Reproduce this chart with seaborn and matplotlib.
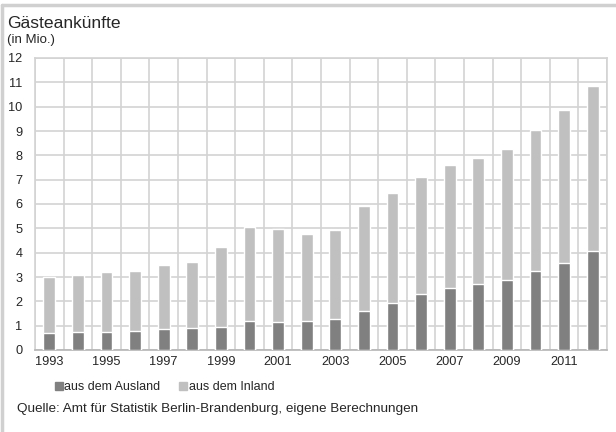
import pandas as pd
import seaborn as sns
import matplotlib.pyplot as plt
from matplotlib.patches import Patch

jahre = list(range(1993, 2013))
gesamt = [2.99, 3.10, 3.21, 3.25, 3.48, 3.62, 4.22, 5.06, 4.96, 4.77,
          4.95, 5.92, 6.44, 7.10, 7.60, 7.88, 8.26, 9.03, 9.88, 10.85]
ausland = [0.68, 0.75, 0.75, 0.79, 0.88, 0.92, 0.96, 1.21, 1.15, 1.21,
           1.29, 1.62, 1.93, 2.30, 2.53, 2.72, 2.88, 3.25, 3.58, 4.07]
inland = [g - a for g, a in zip(gesamt, ausland)]
y_ticks = list(range(0, 13))
x_labels = [str(j) if (j - 1993) % 2 == 0 else "" for j in jahre]

df = pd.DataFrame({"Jahr": [str(j) for j in jahre],
                   "Ausland": ausland, "Inland": inland})
df["Gesamt"] = df["Ausland"] + df["Inland"]

sns.set_style("white")
plt.rcParams["font.family"] = ["Liberation Sans", "DejaVu Sans"]

farbe_aus = "#808080"
farbe_in = "#c0c0c0"
grid = "#d3d3d3"

fig = plt.figure(figsize=(6.16, 4.32), dpi=100)
ax = fig.add_axes([35 / 616, 1 - 350 / 432, 572 / 616, 292 / 432])

# gestapelt: erst Summe (hell), darüber Ausland (dunkel)
sns.barplot(data=df, x="Jahr", y="Gesamt", color=farbe_in, width=0.41,
            saturation=1, ax=ax, zorder=3)
sns.barplot(data=df, x="Jahr", y="Ausland", color=farbe_aus, width=0.41,
            saturation=1, ax=ax, zorder=4)

ax.set_xlim(-0.5, len(jahre) - 0.5)
ax.set_ylim(0, 12)
ax.set_xticks(range(len(jahre)))
ax.set_xticklabels(x_labels, fontsize=9.2)
ax.set_yticks(y_ticks)
ax.set_yticklabels([str(t) for t in y_ticks], fontsize=9.2)
ax.set_xticks([i - 0.5 for i in range(len(jahre) + 1)], minor=True)
ax.tick_params(axis="both", which="both", length=0)
ax.tick_params(axis="x", pad=4)
ax.tick_params(axis="y", pad=9)
ax.set_xlabel("")
ax.set_ylabel("")

ax.grid(axis="y", which="major", color=grid, linewidth=1.2, zorder=0)
ax.grid(axis="x", which="minor", color=grid, linewidth=1.2, zorder=0)
ax.set_axisbelow(True)
for s in ["left", "top", "right"]:
    ax.spines[s].set_color(grid)
    ax.spines[s].set_linewidth(1.2)
ax.spines["bottom"].set_color("#b5b5b5")
ax.spines["bottom"].set_linewidth(1.2)

fig.text(7 / 616, 1 - 28 / 432, "Gästeankünfte", fontsize=12.6, va="baseline")
fig.text(7 / 616, 1 - 43 / 432, "(in Mio.)", fontsize=9.5, va="baseline")

handles = [Patch(color=farbe_aus, label="aus dem Ausland"),
           Patch(color=farbe_in, label="aus dem Inland")]
fig.legend(handles=handles, loc="center left",
           bbox_to_anchor=(55 / 616, 1 - 387 / 432), ncol=2, frameon=False,
           fontsize=9, handlelength=0.6, handleheight=0.6,
           handletextpad=0.15, columnspacing=1.5, borderpad=0, borderaxespad=0)

fig.text(17 / 616, 1 - 412 / 432,
         "Quelle: Amt für Statistik Berlin-Brandenburg, eigene Berechnungen",
         fontsize=9.7, va="baseline")

# grauer Rahmen links und oben
fig.add_artist(plt.Line2D([2.5 / 616, 2.5 / 616], [0, 1 - 5 / 432],
                          color="#d0d0d0", linewidth=2.5))
fig.add_artist(plt.Line2D([2.5 / 616, 1], [1 - 5 / 432, 1 - 5 / 432],
                          color="#d0d0d0", linewidth=2.5))

fig.savefig("out.png", dpi=100)
